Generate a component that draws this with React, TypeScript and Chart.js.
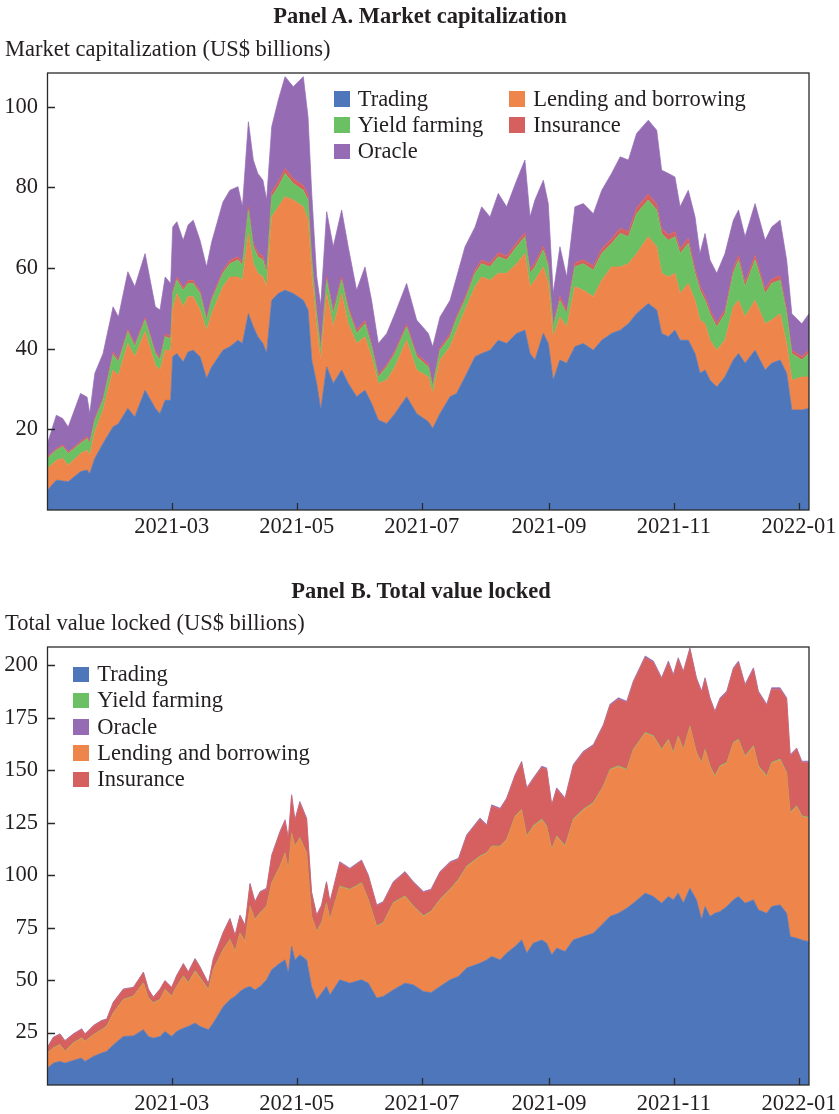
import React, { useEffect, useRef } from 'react';
import { Chart, registerables } from 'chart.js';

Chart.register(...registerables);

// ---------- shared axis definitions (x = days since 2021-01-01) ----------
const xTickDays = [59, 120, 181, 243, 304, 365];
const xTickLabels = ['2021-03', '2021-05', '2021-07', '2021-09', '2021-11', '2022-01'];
const xMin = -1.6;
const xMax = 369.9;

// ---------- Panel A: Market capitalization (US$ billions) ----------
const yTicksA = [20, 40, 60, 80, 100];
const yMaxA = 108.4;

const daysA = [
  -1.6, 2.7, 5.8, 8.5, 14.5, 17.7, 19, 21.5, 25.5, 30.4,
  33, 37.6, 41, 46, 51, 53.3, 55.8, 58.5, 59.5, 61.5,
  64.6, 67, 69.5, 72.8, 76, 78.5, 84, 87.4, 91.3, 93.5,
  96.4, 98.8, 101, 103.5, 105.3, 107.8, 111, 114.3, 118.3, 123.2,
  125.5, 127.3, 129.7, 131.7, 134.6, 137.8, 141.9, 145.1, 149.2, 153.3,
  156.5, 159.8, 163.9, 167.9, 173.6, 178.5, 184.2, 186.3, 189.9, 194.8,
  198, 202.1, 207, 210.2, 214.3, 218.3, 222.4, 227.3, 231.3, 233.8,
  236.2, 240.3, 242.7, 245.1, 248.4, 251.7, 255.7, 259.8, 264.7, 268.8,
  273.6, 277.8, 281.8, 285.8, 291.5, 295.6, 298, 301.3, 304.5, 307,
  311, 314.3, 316.7, 319.2, 321.6, 324.9, 328.9, 333, 335.5, 338.7,
  343.6, 348.5, 351.7, 355.8, 359, 361.5, 366.4, 369.9,
];

const tradingA = [
  4.9, 7.4, 7.2, 7.0, 9.5, 9.9, 9.0, 12.8, 16.5, 20.6,
  21.4, 25.2, 23.1, 29.7, 25.2, 23.9, 27.2, 27.2, 38.0, 38.8,
  36.7, 39.2, 39.6, 38.0, 32.6, 35.5, 39.6, 40.5, 42.1, 41.3,
  48.7, 45.4, 43.0, 41.3, 38.8, 52.0, 53.7, 54.5, 53.7, 52.0,
  49.6, 37.2, 31.4, 24.8, 35.5, 31.4, 34.7, 31.4, 28.1, 29.7,
  26.4, 22.3, 21.4, 23.9, 28.1, 23.9, 21.9, 20.2, 23.9, 28.1,
  28.9, 33.0, 38.0, 38.8, 39.6, 42.1, 41.3, 43.8, 44.6, 38.8,
  37.2, 43.8, 41.3, 32.2, 37.2, 36.4, 40.5, 41.3, 39.6, 42.1,
  43.8, 44.6, 46.2, 48.7, 51.2, 49.6, 43.8, 43.0, 44.6, 42.1,
  42.1, 38.8, 33.9, 34.7, 32.2, 30.5, 33.0, 37.2, 38.8, 36.4,
  39.6, 34.7, 36.4, 37.2, 33.9, 24.8, 24.8, 25.2,
];

const lendingA = [
  5.4, 4.9, 5.6, 4.1, 4.5, 4.9, 4.6, 6.6, 8.3, 14.1,
  12.0, 16.1, 14.9, 14.5, 10.7, 10.8, 12.4, 12.4, 11.6, 14.9,
  13.7, 13.7, 13.3, 11.6, 12.0, 13.2, 15.8, 17.3, 15.7, 15.7,
  19.9, 15.7, 15.7, 16.5, 16.6, 20.7, 21.5, 23.2, 23.2, 23.2,
  22.3, 21.5, 14.0, 12.4, 18.2, 14.0, 19.0, 14.8, 13.2, 13.3,
  11.6, 9.1, 10.8, 11.6, 14.0, 10.8, 11.1, 8.7, 13.3, 12.4,
  15.7, 16.6, 17.4, 19.0, 17.4, 16.6, 17.4, 17.3, 19.0, 16.6,
  19.8, 16.5, 14.9, 10.8, 10.7, 9.0, 14.9, 13.2, 13.3, 14.9,
  16.5, 15.7, 14.9, 14.9, 16.6, 15.7, 14.9, 14.8, 14.1, 11.6,
  14.1, 13.2, 13.2, 11.5, 9.9, 9.1, 9.1, 13.2, 13.2, 11.5,
  12.4, 11.5, 10.7, 11.5, 7.4, 7.4, 8.2, 7.8,
];

const yieldA = [
  2.5, 2.5, 2.9, 2.9, 2.5, 2.9, 2.9, 2.9, 2.4, 3.8,
  3.3, 2.9, 2.5, 2.9, 2.9, 2.5, 3.4, 2.9, 4.1, 3.3,
  4.1, 3.3, 3.3, 4.1, 2.5, 3.3, 3.3, 3.3, 4.2, 3.7,
  5.8, 4.2, 4.1, 4.2, 3.3, 5.0, 5.0, 5.8, 4.1, 4.1,
  5.0, 3.3, 3.3, 2.4, 3.3, 3.3, 3.3, 3.4, 2.5, 3.2,
  2.5, 1.6, 3.3, 3.3, 3.3, 3.3, 2.5, 1.6, 2.4, 2.5,
  2.9, 2.4, 3.3, 3.3, 3.3, 4.1, 3.3, 4.2, 4.2, 3.3,
  3.3, 4.2, 4.1, 2.4, 4.1, 3.3, 4.9, 6.6, 6.6, 6.6,
  5.8, 8.3, 6.7, 9.9, 9.1, 9.1, 9.9, 9.1, 9.1, 9.9,
  9.9, 6.7, 7.4, 5.8, 6.6, 5.8, 6.6, 8.3, 10.0, 7.5,
  10.0, 7.5, 9.1, 8.3, 7.4, 6.6, 4.2, 5.8,
];

const insuranceA = [
  0.4, 0.4, 0.4, 0.4, 0.5, 0.5, 0.5, 0.5, 0.6, 0.6,
  0.6, 0.6, 0.6, 0.6, 0.6, 0.6, 0.6, 0.6, 0.7, 0.7,
  0.7, 0.7, 0.7, 0.7, 0.7, 0.7, 0.8, 0.8, 0.8, 0.8,
  1.0, 1.0, 1.0, 1.0, 1.0, 1.2, 1.2, 1.2, 1.2, 1.2,
  1.2, 1.0, 0.8, 0.8, 0.9, 0.9, 0.9, 0.9, 0.8, 0.8,
  0.8, 0.6, 0.6, 0.7, 0.7, 0.7, 0.7, 0.6, 0.7, 0.7,
  0.7, 0.8, 0.9, 0.9, 0.9, 1.0, 1.0, 1.0, 1.0, 1.0,
  1.0, 1.0, 1.0, 0.8, 1.0, 0.9, 1.0, 1.0, 1.0, 1.2,
  1.2, 1.3, 1.3, 1.4, 1.5, 1.5, 1.3, 1.3, 1.3, 1.2,
  1.3, 1.2, 1.1, 1.1, 1.0, 1.0, 1.0, 1.1, 1.2, 1.1,
  1.2, 1.1, 1.1, 1.1, 1.0, 0.9, 0.8, 0.9,
];

const oracleA = [
  3.3, 8.3, 6.6, 6.2, 11.9, 9.8, 6.9, 11.1, 11.0, 11.3,
  10.6, 14.3, 14.3, 15.9, 11.0, 11.8, 14.2, 13.1, 15.8, 13.8,
  11.7, 13.8, 15.0, 12.5, 12.5, 13.8, 16.9, 17.4, 17.4, 13.7,
  20.9, 20.5, 19.7, 18.8, 17.2, 16.2, 20.3, 22.8, 22.8, 27.0,
  19.4, 15.5, 8.5, 10.4, 16.1, 15.7, 16.5, 14.8, 9.9, 13.3,
  10.7, 7.7, 7.7, 9.2, 10.1, 8.4, 7.6, 9.4, 7.6, 8.3,
  9.6, 12.5, 10.6, 13.2, 11.5, 14.7, 12.2, 15.5, 18.0, 13.0,
  15.6, 16.3, 14.7, 7.5, 12.3, 8.2, 13.9, 13.9, 13.0, 14.5,
  16.2, 17.7, 17.7, 18.5, 18.3, 18.3, 14.4, 15.3, 13.5, 10.4,
  11.9, 12.8, 8.0, 15.5, 12.3, 12.3, 13.9, 12.1, 11.2, 11.3,
  12.8, 12.1, 12.9, 13.8, 12.3, 9.0, 8.2, 9.0,
];

// ---------- Panel B: Total value locked (US$ billions) ----------
const yTicksB = [25, 50, 75, 100, 125, 150, 175, 200];
const yMaxB = 208.7;

const daysB = [
  -1.6, 1.2, 4.5, 6.9, 11, 15.1, 16.7, 20.8, 24.8, 27.3,
  30.5, 35.4, 40.3, 45.2, 47.6, 50, 53.3, 55.7, 59, 61.4,
  64.7, 67.1, 70.4, 72.8, 76.9, 79.3, 84.2, 87.4, 89.9, 92.3,
  94.8, 97.2, 99.6, 102.1, 105.3, 107.8, 111.8, 114.3, 115.9, 117.5,
  119.1, 121.5, 124.8, 127.2, 129.7, 132.1, 134.5, 136.2, 141, 145.9,
  151.6, 154.9, 159, 162.2, 167.1, 172.8, 176.9, 181.8, 185.5, 189.9,
  194.8, 198.9, 202.9, 209.4, 212.7, 215.1, 219.2, 222.4, 226.5, 229.7,
  232.2, 235.4, 239.5, 241.9, 244.4, 246.8, 250.9, 254.9, 259.8, 264.7,
  269.6, 272.8, 276.9, 281, 284.2, 290, 294, 298, 301.3, 303.7,
  306.1, 308.6, 311.8, 315, 317.5, 319.2, 321.6, 324, 326.5, 329.8,
  333, 335.5, 338.7, 342.8, 345.2, 349.3, 351.7, 355.8, 359, 360.7,
  363.9, 366.4, 369.9,
];

const tradingB = [
  8.0, 10.4, 11.2, 10.4, 11.7, 12.8, 11.2, 13.6, 15.2, 16.0,
  19.1, 23.1, 23.4, 26.3, 23.1, 22.3, 23.1, 25.5, 23.1, 25.5,
  27.1, 27.9, 29.5, 27.9, 26.3, 29.5, 37.4, 40.6, 42.2, 44.5,
  46.1, 46.9, 45.3, 46.9, 50.1, 54.9, 58.0, 59.6, 53.3, 66.0,
  59.6, 62.0, 59.6, 46.9, 40.6, 43.7, 46.9, 42.9, 50.1, 48.5,
  50.1, 48.5, 41.4, 42.2, 45.3, 48.5, 47.7, 44.5, 44.0, 46.9,
  50.1, 51.7, 55.7, 58.0, 59.6, 61.2, 59.6, 62.8, 66.0, 69.1,
  62.8, 67.5, 69.1, 67.5, 62.0, 65.2, 63.6, 69.1, 70.7, 72.3,
  77.1, 80.3, 81.8, 84.2, 86.6, 91.4, 89.8, 86.6, 89.8, 88.2,
  91.4, 86.6, 93.7, 88.2, 78.7, 85.0, 80.3, 81.8, 82.6, 85.0,
  88.2, 89.8, 86.6, 88.2, 83.4, 81.8, 85.0, 85.8, 81.8, 70.7,
  69.9, 69.1, 68.3,
];

const lendingB = [
  7.2, 7.2, 7.9, 5.6, 8.2, 9.5, 9.5, 10.3, 11.1, 11.9,
  15.1, 17.5, 18.8, 22.2, 18.3, 16.7, 17.5, 19.8, 19.1, 21.4,
  24.6, 20.6, 24.6, 23.0, 19.0, 25.4, 27.0, 28.5, 21.4, 27.8,
  22.2, 38.1, 33.4, 34.9, 34.9, 41.2, 46.0, 50.8, 49.2, 53.9,
  54.0, 55.6, 50.8, 33.4, 32.5, 33.4, 39.7, 35.8, 44.4, 44.5,
  46.0, 39.7, 34.1, 34.9, 41.3, 41.3, 37.3, 35.8, 38.5, 41.3,
  42.9, 46.0, 48.3, 50.8, 50.8, 52.4, 54.0, 54.0, 61.9, 61.9,
  55.5, 55.6, 57.2, 55.6, 50.0, 53.1, 50.0, 57.2, 60.3, 61.9,
  65.1, 69.8, 69.9, 65.9, 73.0, 76.2, 76.2, 73.0, 74.6, 69.8,
  74.6, 73.0, 77.0, 69.8, 74.6, 74.6, 71.4, 65.1, 69.1, 68.3,
  74.6, 74.6, 69.8, 73.0, 68.3, 65.1, 68.3, 69.1, 66.7, 58.8,
  62.7, 58.8, 58.8,
];

const yieldB = [
  0.2, 0.2, 0.2, 0.2, 0.2, 0.2, 0.2, 0.2, 0.2, 0.2,
  0.2, 0.2, 0.2, 0.2, 0.2, 0.2, 0.2, 0.2, 0.2, 0.2,
  0.3, 0.3, 0.3, 0.3, 0.3, 0.3, 0.3, 0.3, 0.3, 0.3,
  0.3, 0.3, 0.3, 0.3, 0.3, 0.3, 0.3, 0.3, 0.3, 0.3,
  0.3, 0.3, 0.3, 0.3, 0.3, 0.3, 0.3, 0.3, 0.3, 0.3,
  0.3, 0.3, 0.3, 0.3, 0.3, 0.3, 0.3, 0.3, 0.3, 0.3,
  0.3, 0.3, 0.3, 0.3, 0.3, 0.3, 0.3, 0.3, 0.3, 0.3,
  0.4, 0.4, 0.4, 0.4, 0.4, 0.4, 0.4, 0.4, 0.4, 0.4,
  0.4, 0.4, 0.4, 0.4, 0.4, 0.4, 0.4, 0.4, 0.4, 0.4,
  0.4, 0.4, 0.4, 0.4, 0.4, 0.4, 0.4, 0.4, 0.4, 0.4,
  0.4, 0.4, 0.4, 0.4, 0.4, 0.4, 0.4, 0.4, 0.4, 0.4,
  0.4, 0.4, 0.4,
];

const insuranceB = [
  2.4, 4.7, 4.8, 4.7, 4.0, 4.0, 3.2, 4.0, 4.0, 3.1,
  4.8, 4.7, 3.9, 4.8, 3.9, 2.4, 4.7, 4.0, 3.9, 4.8,
  5.5, 4.8, 5.5, 4.8, 2.5, 4.7, 7.9, 9.6, 7.1, 8.0,
  7.2, 10.3, 7.9, 9.6, 8.0, 12.7, 15.9, 15.1, 14.3, 17.5,
  11.9, 16.6, 15.9, 11.1, 7.2, 7.9, 9.5, 7.9, 11.1, 9.5,
  10.3, 11.1, 9.5, 9.5, 9.5, 11.1, 11.1, 11.1, 10.0, 12.7,
  12.6, 9.5, 14.3, 17.5, 12.7, 19.0, 17.4, 19.0, 19.0, 22.3,
  22.3, 22.2, 24.6, 27.0, 20.6, 22.3, 22.2, 25.4, 27.0, 27.0,
  28.5, 30.2, 31.7, 31.7, 31.8, 35.7, 34.9, 33.4, 36.5, 36.5,
  36.5, 36.5, 36.5, 35.0, 33.3, 33.4, 31.7, 30.2, 31.7, 33.3,
  34.9, 36.5, 33.4, 36.5, 34.9, 33.4, 34.9, 33.3, 34.9, 26.9,
  27.0, 25.4, 26.2,
];

const oracleB = [
  0.3, 0.3, 0.3, 0.3, 0.3, 0.3, 0.3, 0.3, 0.3, 0.3,
  0.3, 0.3, 0.3, 0.3, 0.3, 0.3, 0.3, 0.3, 0.3, 0.3,
  0.4, 0.4, 0.4, 0.4, 0.4, 0.4, 0.4, 0.4, 0.4, 0.4,
  0.4, 0.5, 0.5, 0.5, 0.5, 0.5, 0.6, 0.6, 0.6, 0.6,
  0.6, 0.6, 0.6, 0.5, 0.5, 0.5, 0.5, 0.5, 0.5, 0.5,
  0.5, 0.5, 0.5, 0.5, 0.5, 0.5, 0.5, 0.5, 0.5, 0.5,
  0.5, 0.5, 0.6, 0.6, 0.6, 0.6, 0.6, 0.6, 0.6, 0.6,
  0.6, 0.6, 0.6, 0.6, 0.6, 0.6, 0.6, 0.6, 0.6, 0.6,
  0.7, 0.7, 0.7, 0.7, 0.7, 0.7, 0.7, 0.7, 0.7, 0.7,
  0.7, 0.7, 0.7, 0.7, 0.7, 0.7, 0.7, 0.7, 0.7, 0.7,
  0.7, 0.7, 0.7, 0.7, 0.7, 0.7, 0.7, 0.7, 0.7, 0.6,
  0.6, 0.6, 0.6,
];

// ---------- styling ----------
const BLUE = '#4e76bb';
const ORANGE = '#ee854a';
const GREEN = '#6cc064';
const RED = '#d65f5f';
const PURPLE = '#956cb4';
const INK = '#231f20';
const FONT = '"Liberation Serif", "Times New Roman", Times, serif';
const FS = 22.5;

type Series = { label: string; data: number[]; color: string };

const seriesA: Series[] = [
  { label: 'Trading', data: tradingA, color: BLUE },
  { label: 'Lending and borrowing', data: lendingA, color: ORANGE },
  { label: 'Yield farming', data: yieldA, color: GREEN },
  { label: 'Insurance', data: insuranceA, color: RED },
  { label: 'Oracle', data: oracleA, color: PURPLE },
];

const seriesB: Series[] = [
  { label: 'Trading', data: tradingB, color: BLUE },
  { label: 'Lending and borrowing', data: lendingB, color: ORANGE },
  { label: 'Yield farming', data: yieldB, color: GREEN },
  { label: 'Insurance', data: insuranceB, color: RED },
  { label: 'Oracle', data: oracleB, color: PURPLE },
];

const framePlugin = {
  id: 'frameTicks',
  afterDraw(chart: any) {
    const { ctx, chartArea } = chart;
    const { left, right, top, bottom } = chartArea;
    const xs = chart.scales.x;
    const ys = chart.scales.y;
    ctx.save();
    ctx.strokeStyle = '#2a2a2a';
    ctx.lineWidth = 1.3;
    ctx.beginPath();
    xs.ticks.forEach((t: any) => {
      const p = Math.round(xs.getPixelForValue(t.value)) + 0.5;
      ctx.moveTo(p, bottom);
      ctx.lineTo(p, bottom - 7);
    });
    ys.ticks.forEach((t: any) => {
      const p = Math.round(ys.getPixelForValue(t.value)) + 0.5;
      ctx.moveTo(left, p);
      ctx.lineTo(left + 7.5, p);
    });
    ctx.stroke();
    ctx.strokeRect(left, top, right - left, bottom - top);
    ctx.restore();
  },
};

type PanelProps = {
  top: number;
  height: number;
  days: number[];
  series: Series[];
  yMax: number;
  yTicks: number[];
  padTop: number;
  xAxisH: number;
  xPad: number;
};

function Panel({ top, height, days, series, yMax, yTicks, padTop, xAxisH, xPad }: PanelProps) {
  const ref = useRef<HTMLCanvasElement | null>(null);
  useEffect(() => {
    if (!ref.current) return;
    const datasets = series.map((s, i) => ({
      label: s.label,
      data: days.map((d, j) => ({ x: d, y: s.data[j] })),
      backgroundColor: s.color,
      borderColor: s.color,
      borderWidth: 0.7,
      pointRadius: 0,
      pointHoverRadius: 0,
      tension: 0,
      fill: i === 0 ? 'origin' : '-1',
    }));
    const tickFont = { family: FONT, size: FS };
    const chart = new Chart(ref.current, {
      type: 'line',
      data: { datasets: datasets as any },
      options: {
        animation: false,
        responsive: false,
        maintainAspectRatio: false,
        devicePixelRatio: 1,
        layout: { padding: { left: 0, right: 30, top: padTop, bottom: 0 } },
        plugins: { legend: { display: false }, tooltip: { enabled: false }, title: { display: false } },
        scales: {
          x: {
            type: 'linear',
            min: xMin,
            max: xMax,
            grid: { display: false, drawTicks: false },
            border: { display: false },
            afterBuildTicks: (scale: any) => {
              scale.ticks = xTickDays.map((v) => ({ value: v }));
            },
            afterFit: (scale: any) => {
              scale.height = xAxisH;
              scale.paddingLeft = 0;
              scale.paddingRight = 0;
            },
            ticks: {
              callback: (_v: any, i: number) => xTickLabels[i],
              font: tickFont,
              color: INK,
              padding: xPad,
              maxRotation: 0,
              minRotation: 0,
              autoSkip: false,
            },
          },
          y: {
            type: 'linear',
            stacked: true,
            min: 0,
            max: yMax,
            grid: { display: false, drawTicks: false },
            border: { display: false },
            afterBuildTicks: (scale: any) => {
              scale.ticks = yTicks.map((v) => ({ value: v }));
            },
            afterFit: (scale: any) => {
              scale.width = 47.5;
              scale.paddingTop = 0;
              scale.paddingBottom = 0;
            },
            ticks: {
              callback: (v: any) => String(v),
              font: tickFont,
              color: INK,
              padding: 9.5,
              autoSkip: false,
            },
          },
        },
      },
      plugins: [framePlugin],
    });
    return () => chart.destroy();
  }, []);
  return (
    <canvas
      ref={ref}
      width={839}
      height={height}
      style={{ position: 'absolute', left: 0, top, width: 839, height }}
    />
  );
}

// text placed by its alphabetic baseline
function Txt({ x, baseline, bold, center, children }: { x: number; baseline: number; bold?: boolean; center?: boolean; children: React.ReactNode }) {
  return (
    <div
      style={{
        position: 'absolute',
        left: x,
        top: baseline - 0.8375 * FS,
        fontFamily: FONT,
        fontSize: FS,
        lineHeight: `${FS}px`,
        fontWeight: bold ? 'bold' : 'normal',
        color: INK,
        whiteSpace: 'nowrap',
        transform: center ? 'translateX(-50%)' : undefined,
      }}
    >
      {children}
    </div>
  );
}

function LegendItem({ x, baseline, color, label, textX }: { x: number; baseline: number; color: string; label: string; textX: number }) {
  return (
    <>
      <div style={{ position: 'absolute', left: x, top: baseline - 15.5, width: 16, height: 15.5, background: color }} />
      <Txt x={textX} baseline={baseline}>{label}</Txt>
    </>
  );
}

export default function App() {
  return (
    <div style={{ position: 'absolute', left: 0, top: 0, width: 839, height: 1114, background: '#fff', overflow: 'hidden' }}>
      <Panel top={0} height={557} days={daysA} series={seriesA} yMax={yMaxA} yTicks={yTicksA} padTop={73} xAxisH={47} xPad={4} />
      <Panel top={557} height={557} days={daysB} series={seriesB} yMax={yMaxB} yTicks={yTicksB} padTop={90} xAxisH={29} xPad={5.5} />

      <Txt x={420} baseline={24} bold center>Panel A. Market capitalization</Txt>
      <Txt x={5} baseline={56.5}>Market capitalization (US$ billions)</Txt>

      <LegendItem x={334} baseline={106.7} color={BLUE} label="Trading" textX={357.7} />
      <LegendItem x={334} baseline={132.9} color={GREEN} label="Yield farming" textX={357.7} />
      <LegendItem x={334} baseline={159.1} color={PURPLE} label="Oracle" textX={357.7} />
      <LegendItem x={509} baseline={106.7} color={ORANGE} label="Lending and borrowing" textX={533.3} />
      <LegendItem x={509} baseline={132.9} color={RED} label="Insurance" textX={533.3} />

      <Txt x={421} baseline={599} bold center>Panel B. Total value locked</Txt>
      <Txt x={5} baseline={630.7}>Total value locked (US$ billions)</Txt>

      <LegendItem x={72.7} baseline={682} color={BLUE} label="Trading" textX={97.3} />
      <LegendItem x={72.7} baseline={708.3} color={GREEN} label="Yield farming" textX={97.3} />
      <LegendItem x={72.7} baseline={734.6} color={PURPLE} label="Oracle" textX={97.3} />
      <LegendItem x={72.7} baseline={760.9} color={ORANGE} label="Lending and borrowing" textX={97.3} />
      <LegendItem x={72.7} baseline={787.2} color={RED} label="Insurance" textX={97.3} />
    </div>
  );
}
